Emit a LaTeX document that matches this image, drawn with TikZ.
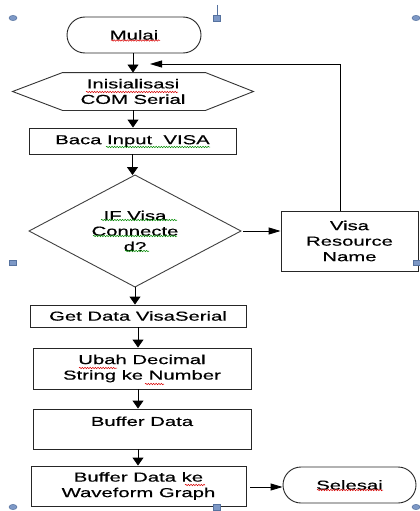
\documentclass[tikz,border=0pt]{standalone}
\usepackage{fontspec}
\setmainfont{Liberation Sans}[FakeStretch=1.56,FakeBold=0.4]
\usetikzlibrary{arrows.meta,calc,decorations.pathmorphing}
\definecolor{hfill}{HTML}{7D98C6}
\definecolor{hdraw}{HTML}{56729F}
\begin{document}
\begin{tikzpicture}[x=1pt,y=-1pt,
  font=\fontsize{13}{15.5}\selectfont,
  line width=0.9pt,
  box/.style={draw=black!85, rectangle, inner sep=0pt, align=center},
  term/.style={draw=black!85, rectangle, rounded corners=18pt, inner sep=0pt, align=center},
  plain/.style={rectangle, inner sep=0pt, align=center},
  varrow/.style={draw=black, -{Triangle[width=11pt,length=8pt]}},
  harrow/.style={draw=black, -{Triangle[width=7pt,length=12pt]}},
  squigred/.style={draw=red!85!black, line width=0.5pt, decorate, decoration={snake, amplitude=0.7pt, segment length=2.6pt}},
  squiggreen/.style={draw=green!55!black, line width=0.5pt, decorate, decoration={snake, amplitude=0.7pt, segment length=2.6pt}},
  hround/.style={fill=hfill, draw=hdraw, line width=0.5pt},
  hsquare/.style={fill=hfill, draw=hdraw, line width=0.5pt}
]
\clip (0,0) rectangle (420,511);
\fill[white] (0,0) rectangle (420,511);

% nodes
\node[term, minimum width=134pt, minimum height=36pt] (mulai) at (134,35) {Mulai};
\node[plain, minimum width=240pt, minimum height=37pt] (init) at (133,91.5) {Inisialisasi\\COM Serial};
\draw[draw=black!80] (init.west) -- ($(init.north west)+(50,0)$) -- ($(init.north east)+(-48,0)$)
  -- (init.east) -- ($(init.south east)+(-48,0)$) -- ($(init.south west)+(50,0)$) -- cycle;
\node[box, minimum width=207pt, minimum height=26pt] (baca) at (132.5,141) {Baca Input\ \ VISA};
\node[plain, minimum width=211pt, minimum height=111pt] (dec) at (135,231) {IF Visa\\Connecte\\d?};
\draw[draw=black!75] (dec.north) -- (dec.east) -- (dec.south) -- (dec.west) -- cycle;
\node[box, minimum width=137pt, minimum height=60pt] (vrn) at (349.5,241) {Visa\\Resource\\Name};
\node[box, minimum width=216pt, minimum height=22pt] (get) at (138,316) {Get Data VisaSerial};
\node[box, minimum width=218pt, minimum height=41pt] (ubah) at (142,368.5) {Ubah Decimal\\String ke Number};
\node[box, minimum width=218pt, minimum height=40pt] (buf) at (142,429) {Buffer Data\\~};
\node[box, minimum width=215pt, minimum height=40pt] (wf) at (138.5,486) {Buffer Data ke\\Waveform Graph};
\node[term, minimum width=133pt, minimum height=36pt] (sel) at (349.5,485) {Selesai};
\coordinate (fb) at (150,64);

% connector start points
\coordinate (s1) at ($(mulai.south)+(-1,0)$);
\coordinate (s5) at ($(ubah.south)+(-4,0)$);
\coordinate (s6) at ($(buf.south)+(-4,0)$);
\coordinate (s7) at ($(dec.east)+(2,0)$);
\coordinate (s8) at ($(wf.east)+(4,1)$);
\coordinate (s9) at ($(vrn.north west)+(60,0)$);

% connectors
\draw[varrow] (s1) -- (s1 |- init.north);
\draw[varrow] (init.south) -- (init.south |- baca.north);
\draw[varrow] (baca.south) -- (baca.south |- dec.north);
\draw[varrow] (dec.south) -- (dec.south |- get.north);
\draw[varrow] (get.south) -- (get.south |- ubah.north);
\draw[varrow] (s5) -- (s5 |- buf.north);
\draw[varrow] (s6) -- (s6 |- wf.north);
\draw[harrow] (s7) -- (s7 -| vrn.west);
\draw[harrow] (s8) -- (s8 -| sel.west);
\draw[harrow] (s9) |- (fb);

% spell-check underlines
\draw[squigred] (111,40.5) -- (160,40.5);
\draw[squigred] (86,92) -- (178,92);
\draw[squiggreen] (106,147) -- (210,147);
\draw[squiggreen] (101,220) -- (177,220);
\draw[squiggreen] (93,236) -- (177,236);
\draw[squiggreen] (125,251) -- (149,251);
\draw[squigred] (79,368) -- (117,368);
\draw[squigred] (145,384) -- (164,384);
\draw[squigred] (185,485) -- (205,485);
\draw[squigred] (317,490) -- (383,490);

% selection handles
\draw[hround] (13,18) ellipse (4 and 2.6);
\draw[hround] (416,18) ellipse (4 and 2.6);
\draw[hround] (13,507) ellipse (4 and 2.6);
\draw[hround] (416,507) ellipse (4 and 2.6);
\draw[hdraw, line width=0.8pt] (217,5) -- (217,15);
\draw[hsquare] (213.5,15) rectangle (220.5,21);
\draw[hsquare] (9.5,260) rectangle (16.5,265.5);
\draw[hsquare] (413,260) rectangle (420,265.5);
\draw[hsquare] (213.5,504) rectangle (220.5,510);
\end{tikzpicture}
\end{document}
